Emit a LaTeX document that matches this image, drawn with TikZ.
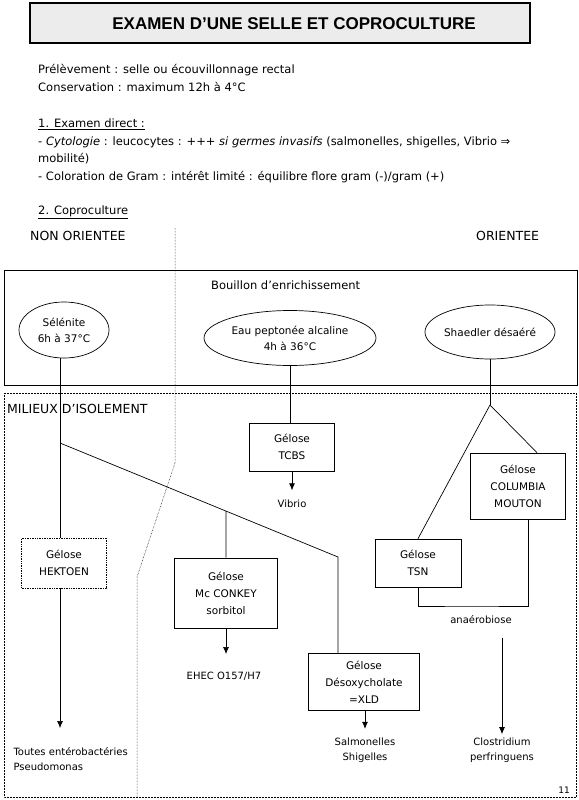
\documentclass[tikz,border=0pt]{standalone}
\usepackage{fontspec}
\setmainfont{DejaVu Sans}
\newfontfamily\titlefont{Liberation Sans}
\usetikzlibrary{shapes.geometric,arrows.meta,calc,positioning}

\begin{document}
\begin{tikzpicture}[x=1pt,y=-1pt,
  gelose/.style={draw, rectangle, align=center, line width=0.7pt, inner sep=0pt, font=\fontsize{10.5}{17}\selectfont},
  bouillon/.style={draw, ellipse, align=center, line width=0.7pt, inner sep=0pt, font=\fontsize{10.5}{16}\selectfont},
  germe/.style={align=center, font=\fontsize{10}{15}\selectfont},
  ligne/.style={anchor=west, inner sep=0pt, font=\fontsize{11.5}{12}\selectfont},
  rubrique/.style={anchor=west, inner sep=0pt, font=\fontsize{12.5}{14}\selectfont},
  trait/.style={line width=0.7pt},
  fleche/.style={line width=0.7pt, -{Latex[length=7pt,width=6pt]}},
  cadre/.style={line width=0.5pt, densely dotted}]
\useasboundingbox (0,0) rectangle (578,800);

% Titre
\draw[line width=1.4pt, fill=gray!15] (30,3) rectangle (530,43);
\node[font=\titlefont\bfseries\fontsize{17}{19}\selectfont] (titre) at (294,24) {EXAMEN D’UNE SELLE ET COPROCULTURE};

% Texte
\node[ligne] (prel) at (38,70) {Prélèvement : selle ou écouvillonnage rectal};
\node[ligne] (cons) at (38,87) {Conservation : maximum 12h à 4°C};
\node[ligne] (exam) at (38,124) {\underline{1. Examen direct :}};
\node[ligne] (cyto) at (38,142) {- \textit{Cytologie} : leucocytes : +++ \textit{si germes invasifs} (salmonelles, shigelles, Vibrio ⇒};
\node[ligne] (mobi) at (38,159) {mobilité)};
\node[ligne] (gram) at (38,177) {- Coloration de Gram : intérêt limité : équilibre flore gram (-)/gram (+)};
\node[ligne] (copro) at (38,212) {\underline{2. Coproculture}};
\node[rubrique] (nonor) at (30,236) {NON ORIENTEE};
\node[rubrique] (orie) at (476,236) {ORIENTEE};

% Separation
\draw[cadre] (175,228) -- (175,463) -- (137,577) -- (137,797);

% Bouillon d'enrichissement
\draw[line width=1pt] (4,270) rectangle (577,385);
\node[ligne] (bouil) at (211,285) {Bouillon d’enrichissement};
\node[bouillon, minimum width=90pt, minimum height=56pt] (sel) at (64,330) {Sélénite\\6h à 37°C};
\node[bouillon, minimum width=172pt, minimum height=55pt] (eau) at (290,338) {Eau peptonée alcaline\\4h à 36°C};
\node[bouillon, minimum width=128pt, minimum height=54pt] (shae) at (490,332) {Shaedler désaéré};

% Milieux d'isolement
\draw[cadre] (4,393) rectangle (576,797);
\node[rubrique] (milieux) at (7,409) {MILIEUX D’ISOLEMENT};

\node[gelose, densely dotted, minimum width=85pt, minimum height=50pt] (hek) at (64,563) {Gélose\\HEKTOEN};
\node[gelose, minimum width=85pt, minimum height=48pt] (tcbs) at (292,447) {Gélose\\TCBS};
\node[gelose, minimum width=103pt, minimum height=70pt] (mck) at (226,593) {Gélose\\Mc CONKEY\\sorbitol};
\node[gelose, minimum width=111pt, minimum height=57pt] (xld) at (364,682) {Gélose\\Désoxycholate\\=XLD};
\node[gelose, minimum width=86pt, minimum height=48pt] (tsn) at (418,563) {Gélose\\TSN};
\node[gelose, minimum width=95pt, minimum height=66pt] (col) at (518,486) {Gélose\\COLUMBIA\\MOUTON};

% Germes
\node[germe] (vib) at (292,504) {Vibrio};
\node[germe] (ehec) at (224,676) {EHEC O157/H7};
\node[germe, align=left, anchor=north west] (tout) at (10,744) {Toutes entérobactéries\\Pseudomonas};
\node[germe] (salm) at (365,750) {Salmonelles\\Shigelles};
\node[germe] (ana) at (481,620) {anaérobiose};
\node[germe] (clos) at (502,750) {Clostridium\\perfringuens};
\node[font=\fontsize{9}{10}\selectfont] (page) at (564,790) {11};

% Connexions
\coordinate (brA) at (60,443);
\coordinate (brB) at (338,557);
\coordinate (apex) at (490,405);
\draw[trait] (sel.south -| brA) -- (hek.north -| brA);
\draw[trait] (brA) -- (brB) -- (xld.north -| brB);
\draw[trait] (intersection of brA--brB and mck.north--mck.center) -- (mck.north);
\draw[trait] (eau.south) -- (eau.south |- tcbs.north);
\draw[trait] (shae.south) -- (apex);
\draw[trait] (apex) -- (tsn.north);
\draw[trait] (apex) -- ($(col.north)+(19,0)$);
\draw[trait] (tsn.south) |- (470,606) -| ($(col.south)+(10,0)$);

\draw[fleche] (hek.south -| brA) -- (60,728);
\draw[fleche] (tcbs.south) -- ++(0,19);
\draw[fleche] (mck.south) -- (mck.south |- 0,654);
\draw[fleche] (xld.south -| salm) -- ++(0,18);
\draw[fleche] (ana.south -| clos) ++(0,10) -- (clos.north);
\end{tikzpicture}
\end{document}
